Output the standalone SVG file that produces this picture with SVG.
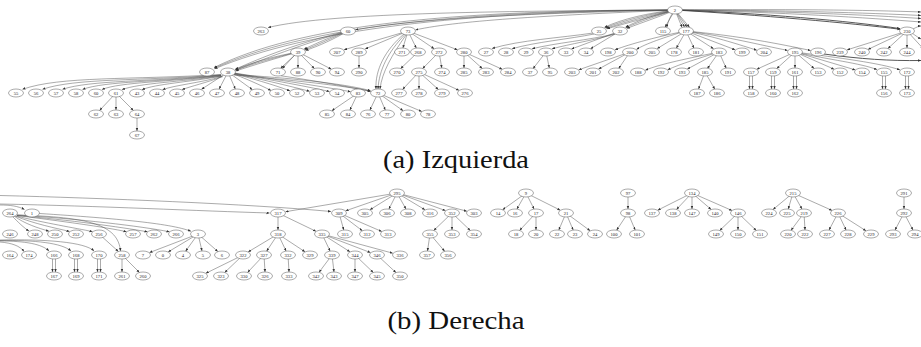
<svg xmlns="http://www.w3.org/2000/svg" width="921" height="347" viewBox="0 0 921 347">
<style>
.n ellipse{fill:#fff;stroke:#555;stroke-width:0.5}
.n text{font-family:"Liberation Serif",serif;font-size:4.6px;text-anchor:middle;fill:#222}
.e path{fill:none;stroke:#444;stroke-width:0.45;marker-end:url(#a)}
.e path.t{stroke-width:0.9}
.cap{font-family:"Liberation Serif","DejaVu Serif",serif;font-size:25px;text-anchor:middle;fill:#111}
</style>
<defs>
<marker id="a" markerWidth="4" markerHeight="4" refX="3" refY="1.25" orient="auto" markerUnits="userSpaceOnUse"><path d="M0,0 L3,1.25 L0,2.5z" fill="#333"/></marker>
</defs>
<rect width="921" height="347" fill="#fff"/>
<g class="e" id="connectors">
<path d="M675,10 C520,11 330,12 268,27.6"/>
<path d="M675,10 C540,13 420,18 355.5,29.8"/>
<path d="M675,10 C560,15 460,20 415.5,29.9"/>
<path d="M675,10 C450,10 300,25 214,67.6"/>
<path d="M675,10 C455,11 305,27 214.3,68.2"/>
<path d="M675,10 C460,12 310,29 214.6,68.8"/>
<path d="M675,10 C650,14 625,20 605,27.8"/>
<path d="M675,10 C652,15 628,21 606,28.3"/>
<path d="M675,10 C648,13 622,19 604.5,27.3"/>
<path d="M675,10 C655,16 630,22 607,28.8"/>
<path d="M675,10 C660,15 640,21 626,27.8"/>
<path d="M675,10 C662,16 643,22 627,28.4"/>
<path d="M675,10 C658,14 638,20 625.5,27.3"/>
<path d="M675,10 L665,27.2"/>
<path d="M675,10 C670,16 668,22 666.8,27.3"/>
<path d="M675,10 L682,27.3"/>
<path d="M675,10 L684.5,27.1"/>
<path d="M675,10 L687,27"/>
<path d="M675,10 L689.5,27.2"/>
<path class="t" d="M675,10 C760,13 850,21 900,28.6"/>
<path class="t" d="M675,10 C760,15 850,23 900.5,29.3"/>
<path d="M675,10 C780,9 870,10 921,12"/>
<path d="M675,10 C780,10 870,13 921,15.5"/>
<path d="M675,10 C780,11 870,15 921,18.5"/>
<path d="M675,10 C780,12 870,18 921,22"/>
<path d="M913,29 C917,27 919,26 921,26"/>
<path d="M912,33 C916,36 919,38 921,39"/>
<path d="M348,31 C330,37 315,44 304,49.2"/>
<path d="M348,31 C332,38 317,45 304.8,49.8"/>
<path d="M348,31 C334,39 319,46 305.6,50.4"/>
<path d="M348,31 C300,42 260,58 235.2,69.3"/>
<path d="M348,31 C302,44 262,60 235.5,70"/>
<path d="M298,52 C275,56 250,63 235.3,69.6"/>
<path d="M298,52 C276,57 252,64 235.5,70.3"/>
<path d="M298,52 C277,58 254,65 235.7,71"/>
<path d="M298,52 L280.6,68.3"/>
<path d="M298,52 C292,58 287,63 282.6,68.6"/>
<path d="M298,52 L298,68"/>
<path d="M298,52 L314.4,68.6"/>
<path d="M298,52 L331.4,69.2"/>
<path d="M281,75.8 C310,80 345,86 370.6,91.4"/>
<path d="M234,74.5 C290,78 340,83 370.5,90.6"/>
<path d="M234,75 C290,80 340,85 370.5,91.2"/>
<path d="M221,74.5 C130,80 60,76 22.5,89.3"/>
<path d="M221,75 C140,81 75,78 42.5,89.3"/>
<path d="M221,75 C150,82 90,80 62.5,89.3"/>
<path d="M221,75.5 C160,82 105,81 82.5,89.4"/>
<path d="M221,75.5 C170,82 120,82 102,89.5"/>
<path d="M221,76 C180,82 140,83 122,89.6"/>
<path d="M222,76 C190,82 155,84 142,89.7"/>
<path d="M222,76.5 C200,83 175,85 162.5,89.7"/>
<path d="M223,76.5 C205,83 192,86 182,89.6"/>
<path d="M228,72 L201.5,89.3"/>
<path d="M228,72 L219.1,89.1"/>
<path d="M228,72 L235.3,89.1"/>
<path d="M228,72 L252.4,89.7"/>
<path d="M228,72 C245,78 260,85 271,90.4"/>
<path d="M228,72 C250,78 275,85 290,90.9"/>
<path d="M228,72 C255,78 290,86 309.6,91.3"/>
<path d="M228,72 C260,78 305,86 329.5,91.5"/>
<path d="M228,72 C265,78 320,86 350.6,91.7"/>
<path d="M116,93 L99.6,110.4"/>
<path d="M116,93 L116,110"/>
<path d="M116,93 L133.4,110.4"/>
<path d="M137,114 L137,131"/>
<path d="M358,93 L331.8,110.8"/>
<path d="M358,93 L349.9,110.1"/>
<path d="M378,93 L369.9,110.1"/>
<path d="M378,93 L385.3,110.1"/>
<path d="M378,93 L403.2,110.8"/>
<path d="M378,93 L421.8,111.5"/>
<path d="M408,31 L344,49.8"/>
<path d="M408,31 L365.2,48.9"/>
<path d="M408,31 L402.9,48.1"/>
<path d="M408,31 L416.3,48.1"/>
<path d="M408,31 L434.2,48.8"/>
<path d="M408,31 L457.5,49.8"/>
<path d="M404,34 C385,50 375,70 376,89"/>
<path d="M405,34.5 C388,52 379,70 378,89"/>
<path d="M406,35 C392,55 382,72 380,89"/>
<path d="M359,52 L359,68"/>
<path d="M418,52 L400.6,68.6"/>
<path d="M439,52 L422.6,68.6"/>
<path d="M439,52 L441.8,68"/>
<path d="M419,72 L402.6,89.4"/>
<path d="M419,72 L419,89"/>
<path d="M419,72 L438.4,89.5"/>
<path d="M419,72 L459,90.3"/>
<path d="M464,52 L464,68"/>
<path d="M464,52 L482.3,68.5"/>
<path d="M464,52 L502.3,69.3"/>
<path d="M593,33 C560,38 520,40 492,48.5"/>
<path d="M594,34 C570,39 535,42 512,48.8"/>
<path d="M614,34 C590,40 555,43 532,48.8"/>
<path d="M615,34 C595,40 570,44 552,48.8"/>
<path d="M620,31 L571.5,49"/>
<path d="M620,31 L590.5,48.8"/>
<path d="M546,52 L533,68.7"/>
<path d="M546,52 L549.3,68"/>
<path d="M686,31 C660,36 630,44 615,49.8"/>
<path d="M686,31 C665,37 645,44 636.5,49.4"/>
<path d="M686,31 L657.2,48.6"/>
<path d="M686,31 L676.3,48.2"/>
<path d="M686,31 L694,48.2"/>
<path d="M686,31 L713.6,48.8"/>
<path d="M686,31 L735.2,49.8"/>
<path d="M686,31 C720,38 740,45 756.8,50.2"/>
<path d="M686,31 C730,37 760,45 787.6,50.4"/>
<path d="M686,31 C740,36 780,44 810.6,50.5"/>
<path d="M630,52 L578.7,69.8"/>
<path d="M630,52 L598.5,69.1"/>
<path d="M630,52 L618.6,68.6"/>
<path d="M719,52 C690,58 660,64 645.3,70.2"/>
<path d="M719,52 C700,58 680,64 667.6,69.8"/>
<path d="M719,52 L687.3,69.1"/>
<path d="M719,52 L707.3,68.6"/>
<path d="M719,52 L726.2,68.3"/>
<path d="M705,72 L698.5,89.1"/>
<path d="M705,72 L714.8,89.2"/>
<path d="M795,52 L756.7,69.3"/>
<path d="M795,52 L776.7,68.6"/>
<path d="M795,52 L795,68"/>
<path d="M795,52 L814.2,68.5"/>
<path d="M795,52 L834.1,69.2"/>
<path d="M795,52 L855.3,69.9"/>
<path d="M795,52 C830,60 860,63 877,69.6"/>
<path d="M795,52 C840,58 880,63 900,69.9"/>
<path class="t" d="M824,54 C860,59 890,61 921,60.5"/>
<path d="M749.5,76 L749.5,89"/><path d="M752.5,76 L752.5,89"/>
<path d="M771.5,76 L771.5,89"/><path d="M774.5,76 L774.5,89"/>
<path d="M793.5,76 L793.5,89"/><path d="M796.5,76 L796.5,89"/>
<path d="M882.5,76 L882.5,89"/><path d="M885.5,76 L885.5,89"/>
<path d="M905.5,76 L905.5,89"/><path d="M908.5,76 L908.5,89"/>
<path d="M907,31 L847,49.9"/>
<path d="M907,31 L868,49.4"/>
<path d="M907,31 L887.9,48.5"/>
<path d="M907,31 L907,48"/>
<path d="M907,31 L923,48.4"/>
<path d="M0,195.5 C100,198 250,204 331,211.5"/>
<path d="M0,204 C100,206 200,211 269.5,213"/>
<path d="M0,205 C10,205 18,206 24.5,209.5"/>
<path d="M32,213 C110,218 170,223 191,231.3"/>
<path d="M12,216 C18,222 24,228 29,231"/>
<path d="M14,216 C25,224 38,228 49,231.2"/>
<path d="M15,216 C35,224 55,228 69.5,231.4"/>
<path d="M16,216 C45,223 75,228 92.5,231.6"/>
<path d="M17,215.5 C60,221 105,227 126.5,231.7"/>
<path d="M17,215.5 C70,220 120,227 147.5,231.8"/>
<path d="M17,215 C80,219 140,226 169.5,231.8"/>
<path d="M17,215 C90,217 118,225 120.5,251"/>
<path d="M0,242 C12,243 20,246 24,251.5"/>
<path d="M0,241 C25,241 42,244 49,251"/>
<path d="M0,240.5 C35,240 62,243 71,251"/>
<path d="M0,240 C45,239 85,242 94,251"/>
<path d="M52.5,259 L52.5,272"/><path d="M55.5,259 L55.5,272"/>
<path d="M74.5,259 L74.5,272"/><path d="M77.5,259 L77.5,272"/>
<path d="M97.5,259 L97.5,272"/><path d="M100.5,259 L100.5,272"/>
<path d="M99,234 L118.3,251.4"/>
<path d="M122,255 L122,272"/>
<path d="M122,255 L139.4,272.4"/>
<path d="M198,234 L149.5,252.6"/>
<path d="M198,234 L168.2,251.9"/>
<path d="M198,234 L185.6,251.2"/>
<path d="M198,234 L202,251"/>
<path d="M198,234 L217.8,251.5"/>
<path d="M397,193 L285.6,211.7"/>
<path d="M397,193 L345.6,210.8"/>
<path d="M397,193 L369.9,209.8"/>
<path d="M397,193 L388.9,209.1"/>
<path d="M397,193 L406,209.1"/>
<path d="M397,193 L425,209.8"/>
<path d="M397,193 L445.5,210.6"/>
<path d="M397,193 L466.9,211.2"/>
<path d="M278,213 L278,230"/>
<path d="M278,213 L316,231.3"/>
<path d="M278,234 L248.2,251.9"/>
<path d="M278,234 L266.6,251.2"/>
<path d="M278,234 L286.1,251.1"/>
<path d="M278,234 L305,251.8"/>
<path d="M322,234 L330.1,251.1"/>
<path d="M322,234 L350,251.8"/>
<path d="M322,234 L370.5,252.6"/>
<path d="M322,234 L392.8,253.2"/>
<path d="M339,213 L343.8,230.1"/>
<path d="M339,213 L362.4,230.8"/>
<path d="M339,213 L381.8,231.5"/>
<path d="M452,213 L433.7,230.5"/>
<path d="M452,213 L452,230"/>
<path d="M452,213 L470.3,230.5"/>
<path d="M430,234 L427.5,251"/>
<path d="M430,234 L444.7,251.3"/>
<path d="M243,255 L205.8,273.3"/>
<path d="M243,255 L224.7,272.5"/>
<path d="M264,255 L247.6,272.4"/>
<path d="M264,255 L265,272"/>
<path d="M288,255 L289,272"/>
<path d="M332,255 L319,272.3"/>
<path d="M332,255 L334,272"/>
<path d="M355,255 L355,272"/>
<path d="M355,255 L373.3,272.5"/>
<path d="M377,255 L396,272.6"/>
<path d="M526,193 L502.6,209.8"/>
<path d="M526,193 L516.9,209.1"/>
<path d="M526,193 L534.1,209.1"/>
<path d="M526,193 L560.3,210.2"/>
<path d="M536,213 L519.6,230.4"/>
<path d="M536,213 L536,230"/>
<path d="M566,213 L558.8,230.1"/>
<path d="M566,213 L573.2,230.1"/>
<path d="M566,213 L590.2,230.8"/>
<path d="M628,193 L628,209"/>
<path d="M628,213 L616.6,230.2"/>
<path d="M628,213 L635.2,230.1"/>
<path d="M692,193 L657.7,210.2"/>
<path d="M692,193 L676.5,209.4"/>
<path d="M692,193 L692,209"/>
<path d="M692,193 L711.1,209.4"/>
<path d="M692,193 L732,210.5"/>
<path d="M738,213 L719.7,230.5"/>
<path d="M738,213 L738,230"/>
<path d="M738,213 L756.3,230.5"/>
<path d="M793,193 L773,209.5"/>
<path d="M793,193 L788.2,209.1"/>
<path d="M793,193 L802,209.1"/>
<path d="M793,193 L832,210.4"/>
<path d="M804,213 L791,230.3"/>
<path d="M804,213 L805,230"/>
<path d="M838,213 L829,230.1"/>
<path d="M838,213 L846.1,230.1"/>
<path d="M838,213 L866,230.8"/>
<path d="M904,193 L904,209"/>
<path d="M904,213 L895,230.1"/>
<path d="M904,213 L913,230.1"/>
</g>
<g id="n2" class="n"><ellipse cx="675" cy="10" rx="7.5" ry="4"/><text x="675" y="11.6">2</text></g>
<g id="n263" class="n"><ellipse cx="261" cy="31" rx="7.5" ry="4"/><text x="261" y="32.6">263</text></g>
<g id="n60" class="n"><ellipse cx="348" cy="31" rx="7.5" ry="4"/><text x="348" y="32.6">60</text></g>
<g id="n73" class="n"><ellipse cx="408" cy="31" rx="7.5" ry="4"/><text x="408" y="32.6">73</text></g>
<g id="n25" class="n"><ellipse cx="599" cy="31" rx="7.5" ry="4"/><text x="599" y="32.6">25</text></g>
<g id="n32" class="n"><ellipse cx="620" cy="31" rx="7.5" ry="4"/><text x="620" y="32.6">32</text></g>
<g id="n115" class="n"><ellipse cx="663" cy="31" rx="7.5" ry="4"/><text x="663" y="32.6">115</text></g>
<g id="n177" class="n"><ellipse cx="686" cy="31" rx="7.5" ry="4"/><text x="686" y="32.6">177</text></g>
<g id="n230" class="n"><ellipse cx="907" cy="31" rx="7.5" ry="4"/><text x="907" y="32.6">230</text></g>
<g id="n39" class="n"><ellipse cx="298" cy="52" rx="7.5" ry="4"/><text x="298" y="53.6">39</text></g>
<g id="n207" class="n"><ellipse cx="337" cy="52" rx="7.5" ry="4"/><text x="337" y="53.6">207</text></g>
<g id="n289" class="n"><ellipse cx="359" cy="52" rx="7.5" ry="4"/><text x="359" y="53.6">289</text></g>
<g id="n271" class="n"><ellipse cx="402" cy="52" rx="7.5" ry="4"/><text x="402" y="53.6">271</text></g>
<g id="n268" class="n"><ellipse cx="418" cy="52" rx="7.5" ry="4"/><text x="418" y="53.6">268</text></g>
<g id="n272" class="n"><ellipse cx="439" cy="52" rx="7.5" ry="4"/><text x="439" y="53.6">272</text></g>
<g id="n280" class="n"><ellipse cx="464" cy="52" rx="7.5" ry="4"/><text x="464" y="53.6">280</text></g>
<g id="n27" class="n"><ellipse cx="486" cy="52" rx="7.5" ry="4"/><text x="486" y="53.6">27</text></g>
<g id="n28" class="n"><ellipse cx="506" cy="52" rx="7.5" ry="4"/><text x="506" y="53.6">28</text></g>
<g id="n29" class="n"><ellipse cx="526" cy="52" rx="7.5" ry="4"/><text x="526" y="53.6">29</text></g>
<g id="n36" class="n"><ellipse cx="546" cy="52" rx="7.5" ry="4"/><text x="546" y="53.6">36</text></g>
<g id="n33" class="n"><ellipse cx="566" cy="52" rx="7.5" ry="4"/><text x="566" y="53.6">33</text></g>
<g id="n34" class="n"><ellipse cx="586" cy="52" rx="7.5" ry="4"/><text x="586" y="53.6">34</text></g>
<g id="n198" class="n"><ellipse cx="608" cy="52" rx="7.5" ry="4"/><text x="608" y="53.6">198</text></g>
<g id="n200" class="n"><ellipse cx="630" cy="52" rx="7.5" ry="4"/><text x="630" y="53.6">200</text></g>
<g id="n205" class="n"><ellipse cx="652" cy="52" rx="7.5" ry="4"/><text x="652" y="53.6">205</text></g>
<g id="n178" class="n"><ellipse cx="674" cy="52" rx="7.5" ry="4"/><text x="674" y="53.6">178</text></g>
<g id="n181" class="n"><ellipse cx="696" cy="52" rx="7.5" ry="4"/><text x="696" y="53.6">181</text></g>
<g id="n183" class="n"><ellipse cx="719" cy="52" rx="7.5" ry="4"/><text x="719" y="53.6">183</text></g>
<g id="n199" class="n"><ellipse cx="742" cy="52" rx="7.5" ry="4"/><text x="742" y="53.6">199</text></g>
<g id="n204" class="n"><ellipse cx="764" cy="52" rx="7.5" ry="4"/><text x="764" y="53.6">204</text></g>
<g id="n195" class="n"><ellipse cx="795" cy="52" rx="7.5" ry="4"/><text x="795" y="53.6">195</text></g>
<g id="n196" class="n"><ellipse cx="818" cy="52" rx="7.5" ry="4"/><text x="818" y="53.6">196</text></g>
<g id="n239" class="n"><ellipse cx="840" cy="52" rx="7.5" ry="4"/><text x="840" y="53.6">239</text></g>
<g id="n240" class="n"><ellipse cx="862" cy="52" rx="7.5" ry="4"/><text x="862" y="53.6">240</text></g>
<g id="n242" class="n"><ellipse cx="884" cy="52" rx="7.5" ry="4"/><text x="884" y="53.6">242</text></g>
<g id="n244" class="n"><ellipse cx="907" cy="52" rx="7.5" ry="4"/><text x="907" y="53.6">244</text></g>
<g id="nedge" class="n"><ellipse cx="929" cy="52" rx="7.5" ry="4"/></g>
<g id="n87" class="n"><ellipse cx="207" cy="72" rx="7.5" ry="4"/><text x="207" y="73.6">87</text></g>
<g id="n38" class="n"><ellipse cx="228" cy="72" rx="7.5" ry="4"/><text x="228" y="73.6">38</text></g>
<g id="n71" class="n"><ellipse cx="278" cy="72" rx="7.5" ry="4"/><text x="278" y="73.6">71</text></g>
<g id="n88" class="n"><ellipse cx="298" cy="72" rx="7.5" ry="4"/><text x="298" y="73.6">88</text></g>
<g id="n90" class="n"><ellipse cx="318" cy="72" rx="7.5" ry="4"/><text x="318" y="73.6">90</text></g>
<g id="n94" class="n"><ellipse cx="337" cy="72" rx="7.5" ry="4"/><text x="337" y="73.6">94</text></g>
<g id="n290" class="n"><ellipse cx="359" cy="72" rx="7.5" ry="4"/><text x="359" y="73.6">290</text></g>
<g id="n270" class="n"><ellipse cx="397" cy="72" rx="7.5" ry="4"/><text x="397" y="73.6">270</text></g>
<g id="n275" class="n"><ellipse cx="419" cy="72" rx="7.5" ry="4"/><text x="419" y="73.6">275</text></g>
<g id="n274" class="n"><ellipse cx="442" cy="72" rx="7.5" ry="4"/><text x="442" y="73.6">274</text></g>
<g id="n285" class="n"><ellipse cx="464" cy="72" rx="7.5" ry="4"/><text x="464" y="73.6">285</text></g>
<g id="n283" class="n"><ellipse cx="486" cy="72" rx="7.5" ry="4"/><text x="486" y="73.6">283</text></g>
<g id="n284" class="n"><ellipse cx="508" cy="72" rx="7.5" ry="4"/><text x="508" y="73.6">284</text></g>
<g id="n37" class="n"><ellipse cx="530" cy="72" rx="7.5" ry="4"/><text x="530" y="73.6">37</text></g>
<g id="n95" class="n"><ellipse cx="550" cy="72" rx="7.5" ry="4"/><text x="550" y="73.6">95</text></g>
<g id="n203" class="n"><ellipse cx="572" cy="72" rx="7.5" ry="4"/><text x="572" y="73.6">203</text></g>
<g id="n201" class="n"><ellipse cx="593" cy="72" rx="7.5" ry="4"/><text x="593" y="73.6">201</text></g>
<g id="n202" class="n"><ellipse cx="616" cy="72" rx="7.5" ry="4"/><text x="616" y="73.6">202</text></g>
<g id="n188" class="n"><ellipse cx="638" cy="72" rx="7.5" ry="4"/><text x="638" y="73.6">188</text></g>
<g id="n192" class="n"><ellipse cx="661" cy="72" rx="7.5" ry="4"/><text x="661" y="73.6">192</text></g>
<g id="n193" class="n"><ellipse cx="682" cy="72" rx="7.5" ry="4"/><text x="682" y="73.6">193</text></g>
<g id="n185" class="n"><ellipse cx="705" cy="72" rx="7.5" ry="4"/><text x="705" y="73.6">185</text></g>
<g id="n191" class="n"><ellipse cx="728" cy="72" rx="7.5" ry="4"/><text x="728" y="73.6">191</text></g>
<g id="n157" class="n"><ellipse cx="751" cy="72" rx="7.5" ry="4"/><text x="751" y="73.6">157</text></g>
<g id="n159" class="n"><ellipse cx="773" cy="72" rx="7.5" ry="4"/><text x="773" y="73.6">159</text></g>
<g id="n161" class="n"><ellipse cx="795" cy="72" rx="7.5" ry="4"/><text x="795" y="73.6">161</text></g>
<g id="n153" class="n"><ellipse cx="818" cy="72" rx="7.5" ry="4"/><text x="818" y="73.6">153</text></g>
<g id="n152" class="n"><ellipse cx="840" cy="72" rx="7.5" ry="4"/><text x="840" y="73.6">152</text></g>
<g id="n154" class="n"><ellipse cx="862" cy="72" rx="7.5" ry="4"/><text x="862" y="73.6">154</text></g>
<g id="n155" class="n"><ellipse cx="884" cy="72" rx="7.5" ry="4"/><text x="884" y="73.6">155</text></g>
<g id="n172" class="n"><ellipse cx="907" cy="72" rx="7.5" ry="4"/><text x="907" y="73.6">172</text></g>
<g id="n55" class="n"><ellipse cx="16" cy="93" rx="7.5" ry="4"/><text x="16" y="94.6">55</text></g>
<g id="n56" class="n"><ellipse cx="36" cy="93" rx="7.5" ry="4"/><text x="36" y="94.6">56</text></g>
<g id="n57" class="n"><ellipse cx="56" cy="93" rx="7.5" ry="4"/><text x="56" y="94.6">57</text></g>
<g id="n58" class="n"><ellipse cx="76" cy="93" rx="7.5" ry="4"/><text x="76" y="94.6">58</text></g>
<g id="n60b" class="n"><ellipse cx="96" cy="93" rx="7.5" ry="4"/><text x="96" y="94.6">60</text></g>
<g id="n61" class="n"><ellipse cx="116" cy="93" rx="7.5" ry="4"/><text x="116" y="94.6">61</text></g>
<g id="n43" class="n"><ellipse cx="137" cy="93" rx="7.5" ry="4"/><text x="137" y="94.6">43</text></g>
<g id="n44" class="n"><ellipse cx="157" cy="93" rx="7.5" ry="4"/><text x="157" y="94.6">44</text></g>
<g id="n45" class="n"><ellipse cx="177" cy="93" rx="7.5" ry="4"/><text x="177" y="94.6">45</text></g>
<g id="n46" class="n"><ellipse cx="197" cy="93" rx="7.5" ry="4"/><text x="197" y="94.6">46</text></g>
<g id="n47" class="n"><ellipse cx="217" cy="93" rx="7.5" ry="4"/><text x="217" y="94.6">47</text></g>
<g id="n48" class="n"><ellipse cx="237" cy="93" rx="7.5" ry="4"/><text x="237" y="94.6">48</text></g>
<g id="n49" class="n"><ellipse cx="257" cy="93" rx="7.5" ry="4"/><text x="257" y="94.6">49</text></g>
<g id="n50" class="n"><ellipse cx="277" cy="93" rx="7.5" ry="4"/><text x="277" y="94.6">50</text></g>
<g id="n52" class="n"><ellipse cx="297" cy="93" rx="7.5" ry="4"/><text x="297" y="94.6">52</text></g>
<g id="n53" class="n"><ellipse cx="317" cy="93" rx="7.5" ry="4"/><text x="317" y="94.6">53</text></g>
<g id="n54" class="n"><ellipse cx="337" cy="93" rx="7.5" ry="4"/><text x="337" y="94.6">54</text></g>
<g id="n83" class="n"><ellipse cx="358" cy="93" rx="7.5" ry="4"/><text x="358" y="94.6">83</text></g>
<g id="n72" class="n"><ellipse cx="378" cy="93" rx="7.5" ry="4"/><text x="378" y="94.6">72</text></g>
<g id="n277" class="n"><ellipse cx="399" cy="93" rx="7.5" ry="4"/><text x="399" y="94.6">277</text></g>
<g id="n278" class="n"><ellipse cx="419" cy="93" rx="7.5" ry="4"/><text x="419" y="94.6">278</text></g>
<g id="n279" class="n"><ellipse cx="442" cy="93" rx="7.5" ry="4"/><text x="442" y="94.6">279</text></g>
<g id="n276" class="n"><ellipse cx="465" cy="93" rx="7.5" ry="4"/><text x="465" y="94.6">276</text></g>
<g id="n187" class="n"><ellipse cx="697" cy="93" rx="7.5" ry="4"/><text x="697" y="94.6">187</text></g>
<g id="n186" class="n"><ellipse cx="717" cy="93" rx="7.5" ry="4"/><text x="717" y="94.6">186</text></g>
<g id="n158" class="n"><ellipse cx="751" cy="93" rx="7.5" ry="4"/><text x="751" y="94.6">158</text></g>
<g id="n160" class="n"><ellipse cx="773" cy="93" rx="7.5" ry="4"/><text x="773" y="94.6">160</text></g>
<g id="n162" class="n"><ellipse cx="795" cy="93" rx="7.5" ry="4"/><text x="795" y="94.6">162</text></g>
<g id="n156" class="n"><ellipse cx="884" cy="93" rx="7.5" ry="4"/><text x="884" y="94.6">156</text></g>
<g id="n173" class="n"><ellipse cx="907" cy="93" rx="7.5" ry="4"/><text x="907" y="94.6">173</text></g>
<g id="n62" class="n"><ellipse cx="96" cy="114" rx="7.5" ry="4"/><text x="96" y="115.6">62</text></g>
<g id="n63" class="n"><ellipse cx="116" cy="114" rx="7.5" ry="4"/><text x="116" y="115.6">63</text></g>
<g id="n64" class="n"><ellipse cx="137" cy="114" rx="7.5" ry="4"/><text x="137" y="115.6">64</text></g>
<g id="n85" class="n"><ellipse cx="327" cy="114" rx="7.5" ry="4"/><text x="327" y="115.6">85</text></g>
<g id="n84" class="n"><ellipse cx="348" cy="114" rx="7.5" ry="4"/><text x="348" y="115.6">84</text></g>
<g id="n76" class="n"><ellipse cx="368" cy="114" rx="7.5" ry="4"/><text x="368" y="115.6">76</text></g>
<g id="n77" class="n"><ellipse cx="387" cy="114" rx="7.5" ry="4"/><text x="387" y="115.6">77</text></g>
<g id="n80" class="n"><ellipse cx="408" cy="114" rx="7.5" ry="4"/><text x="408" y="115.6">80</text></g>
<g id="n78" class="n"><ellipse cx="428" cy="114" rx="7.5" ry="4"/><text x="428" y="115.6">78</text></g>
<g id="n67" class="n"><ellipse cx="137" cy="135" rx="7.5" ry="4"/><text x="137" y="136.6">67</text></g>
<text class="cap" x="456" y="168" textLength="146" lengthAdjust="spacingAndGlyphs">(a) Izquierda</text>
<g id="n295" class="n"><ellipse cx="397" cy="193" rx="7.5" ry="4"/><text x="397" y="194.6">295</text></g>
<g id="n9" class="n"><ellipse cx="526" cy="193" rx="7.5" ry="4"/><text x="526" y="194.6">9</text></g>
<g id="n97" class="n"><ellipse cx="628" cy="193" rx="7.5" ry="4"/><text x="628" y="194.6">97</text></g>
<g id="n134" class="n"><ellipse cx="692" cy="193" rx="7.5" ry="4"/><text x="692" y="194.6">134</text></g>
<g id="n215" class="n"><ellipse cx="793" cy="193" rx="7.5" ry="4"/><text x="793" y="194.6">215</text></g>
<g id="n291" class="n"><ellipse cx="904" cy="193" rx="7.5" ry="4"/><text x="904" y="194.6">291</text></g>
<g id="n264" class="n"><ellipse cx="10" cy="213" rx="7.5" ry="4"/><text x="10" y="214.6">264</text></g>
<g id="n1" class="n"><ellipse cx="32" cy="213" rx="7.5" ry="4"/><text x="32" y="214.6">1</text></g>
<g id="n317" class="n"><ellipse cx="278" cy="213" rx="7.5" ry="4"/><text x="278" y="214.6">317</text></g>
<g id="n309" class="n"><ellipse cx="339" cy="213" rx="7.5" ry="4"/><text x="339" y="214.6">309</text></g>
<g id="n305" class="n"><ellipse cx="365" cy="213" rx="7.5" ry="4"/><text x="365" y="214.6">305</text></g>
<g id="n306" class="n"><ellipse cx="387" cy="213" rx="7.5" ry="4"/><text x="387" y="214.6">306</text></g>
<g id="n308" class="n"><ellipse cx="408" cy="213" rx="7.5" ry="4"/><text x="408" y="214.6">308</text></g>
<g id="n316" class="n"><ellipse cx="430" cy="213" rx="7.5" ry="4"/><text x="430" y="214.6">316</text></g>
<g id="n352" class="n"><ellipse cx="452" cy="213" rx="7.5" ry="4"/><text x="452" y="214.6">352</text></g>
<g id="n303" class="n"><ellipse cx="474" cy="213" rx="7.5" ry="4"/><text x="474" y="214.6">303</text></g>
<g id="n14" class="n"><ellipse cx="498" cy="213" rx="7.5" ry="4"/><text x="498" y="214.6">14</text></g>
<g id="n16" class="n"><ellipse cx="515" cy="213" rx="7.5" ry="4"/><text x="515" y="214.6">16</text></g>
<g id="n17" class="n"><ellipse cx="536" cy="213" rx="7.5" ry="4"/><text x="536" y="214.6">17</text></g>
<g id="n21" class="n"><ellipse cx="566" cy="213" rx="7.5" ry="4"/><text x="566" y="214.6">21</text></g>
<g id="n98" class="n"><ellipse cx="628" cy="213" rx="7.5" ry="4"/><text x="628" y="214.6">98</text></g>
<g id="n137" class="n"><ellipse cx="652" cy="213" rx="7.5" ry="4"/><text x="652" y="214.6">137</text></g>
<g id="n138" class="n"><ellipse cx="673" cy="213" rx="7.5" ry="4"/><text x="673" y="214.6">138</text></g>
<g id="n147" class="n"><ellipse cx="692" cy="213" rx="7.5" ry="4"/><text x="692" y="214.6">147</text></g>
<g id="n140" class="n"><ellipse cx="715" cy="213" rx="7.5" ry="4"/><text x="715" y="214.6">140</text></g>
<g id="n146" class="n"><ellipse cx="738" cy="213" rx="7.5" ry="4"/><text x="738" y="214.6">146</text></g>
<g id="n224" class="n"><ellipse cx="769" cy="213" rx="7.5" ry="4"/><text x="769" y="214.6">224</text></g>
<g id="n225" class="n"><ellipse cx="787" cy="213" rx="7.5" ry="4"/><text x="787" y="214.6">225</text></g>
<g id="n219" class="n"><ellipse cx="804" cy="213" rx="7.5" ry="4"/><text x="804" y="214.6">219</text></g>
<g id="n226" class="n"><ellipse cx="838" cy="213" rx="7.5" ry="4"/><text x="838" y="214.6">226</text></g>
<g id="n292" class="n"><ellipse cx="904" cy="213" rx="7.5" ry="4"/><text x="904" y="214.6">292</text></g>
<g id="n246" class="n"><ellipse cx="10" cy="234" rx="7.5" ry="4"/><text x="10" y="235.6">246</text></g>
<g id="n248" class="n"><ellipse cx="35" cy="234" rx="7.5" ry="4"/><text x="35" y="235.6">248</text></g>
<g id="n250" class="n"><ellipse cx="55" cy="234" rx="7.5" ry="4"/><text x="55" y="235.6">250</text></g>
<g id="n252" class="n"><ellipse cx="76" cy="234" rx="7.5" ry="4"/><text x="76" y="235.6">252</text></g>
<g id="n256" class="n"><ellipse cx="99" cy="234" rx="7.5" ry="4"/><text x="99" y="235.6">256</text></g>
<g id="n257" class="n"><ellipse cx="133" cy="234" rx="7.5" ry="4"/><text x="133" y="235.6">257</text></g>
<g id="n262" class="n"><ellipse cx="154" cy="234" rx="7.5" ry="4"/><text x="154" y="235.6">262</text></g>
<g id="n266" class="n"><ellipse cx="176" cy="234" rx="7.5" ry="4"/><text x="176" y="235.6">266</text></g>
<g id="n3" class="n"><ellipse cx="198" cy="234" rx="7.5" ry="4"/><text x="198" y="235.6">3</text></g>
<g id="n318" class="n"><ellipse cx="278" cy="234" rx="7.5" ry="4"/><text x="278" y="235.6">318</text></g>
<g id="n335" class="n"><ellipse cx="322" cy="234" rx="7.5" ry="4"/><text x="322" y="235.6">335</text></g>
<g id="n315" class="n"><ellipse cx="345" cy="234" rx="7.5" ry="4"/><text x="345" y="235.6">315</text></g>
<g id="n312" class="n"><ellipse cx="367" cy="234" rx="7.5" ry="4"/><text x="367" y="235.6">312</text></g>
<g id="n313" class="n"><ellipse cx="388" cy="234" rx="7.5" ry="4"/><text x="388" y="235.6">313</text></g>
<g id="n355" class="n"><ellipse cx="430" cy="234" rx="7.5" ry="4"/><text x="430" y="235.6">355</text></g>
<g id="n353" class="n"><ellipse cx="452" cy="234" rx="7.5" ry="4"/><text x="452" y="235.6">353</text></g>
<g id="n354" class="n"><ellipse cx="474" cy="234" rx="7.5" ry="4"/><text x="474" y="235.6">354</text></g>
<g id="n18" class="n"><ellipse cx="516" cy="234" rx="7.5" ry="4"/><text x="516" y="235.6">18</text></g>
<g id="n20" class="n"><ellipse cx="536" cy="234" rx="7.5" ry="4"/><text x="536" y="235.6">20</text></g>
<g id="n22" class="n"><ellipse cx="557" cy="234" rx="7.5" ry="4"/><text x="557" y="235.6">22</text></g>
<g id="n23" class="n"><ellipse cx="575" cy="234" rx="7.5" ry="4"/><text x="575" y="235.6">23</text></g>
<g id="n24" class="n"><ellipse cx="595" cy="234" rx="7.5" ry="4"/><text x="595" y="235.6">24</text></g>
<g id="n100" class="n"><ellipse cx="614" cy="234" rx="7.5" ry="4"/><text x="614" y="235.6">100</text></g>
<g id="n101" class="n"><ellipse cx="637" cy="234" rx="7.5" ry="4"/><text x="637" y="235.6">101</text></g>
<g id="n149" class="n"><ellipse cx="716" cy="234" rx="7.5" ry="4"/><text x="716" y="235.6">149</text></g>
<g id="n150" class="n"><ellipse cx="738" cy="234" rx="7.5" ry="4"/><text x="738" y="235.6">150</text></g>
<g id="n151" class="n"><ellipse cx="760" cy="234" rx="7.5" ry="4"/><text x="760" y="235.6">151</text></g>
<g id="n220" class="n"><ellipse cx="788" cy="234" rx="7.5" ry="4"/><text x="788" y="235.6">220</text></g>
<g id="n222" class="n"><ellipse cx="805" cy="234" rx="7.5" ry="4"/><text x="805" y="235.6">222</text></g>
<g id="n227" class="n"><ellipse cx="827" cy="234" rx="7.5" ry="4"/><text x="827" y="235.6">227</text></g>
<g id="n228" class="n"><ellipse cx="848" cy="234" rx="7.5" ry="4"/><text x="848" y="235.6">228</text></g>
<g id="n229" class="n"><ellipse cx="871" cy="234" rx="7.5" ry="4"/><text x="871" y="235.6">229</text></g>
<g id="n293" class="n"><ellipse cx="893" cy="234" rx="7.5" ry="4"/><text x="893" y="235.6">293</text></g>
<g id="n294" class="n"><ellipse cx="915" cy="234" rx="7.5" ry="4"/><text x="915" y="235.6">294</text></g>
<g id="n164" class="n"><ellipse cx="10" cy="255" rx="7.5" ry="4"/><text x="10" y="256.6">164</text></g>
<g id="n174" class="n"><ellipse cx="29" cy="255" rx="7.5" ry="4"/><text x="29" y="256.6">174</text></g>
<g id="n166" class="n"><ellipse cx="54" cy="255" rx="7.5" ry="4"/><text x="54" y="256.6">166</text></g>
<g id="n168" class="n"><ellipse cx="76" cy="255" rx="7.5" ry="4"/><text x="76" y="256.6">168</text></g>
<g id="n170" class="n"><ellipse cx="99" cy="255" rx="7.5" ry="4"/><text x="99" y="256.6">170</text></g>
<g id="n258" class="n"><ellipse cx="122" cy="255" rx="7.5" ry="4"/><text x="122" y="256.6">258</text></g>
<g id="n7" class="n"><ellipse cx="143" cy="255" rx="7.5" ry="4"/><text x="143" y="256.6">7</text></g>
<g id="n0" class="n"><ellipse cx="163" cy="255" rx="7.5" ry="4"/><text x="163" y="256.6">0</text></g>
<g id="n4" class="n"><ellipse cx="183" cy="255" rx="7.5" ry="4"/><text x="183" y="256.6">4</text></g>
<g id="n5" class="n"><ellipse cx="203" cy="255" rx="7.5" ry="4"/><text x="203" y="256.6">5</text></g>
<g id="n6" class="n"><ellipse cx="222" cy="255" rx="7.5" ry="4"/><text x="222" y="256.6">6</text></g>
<g id="n322" class="n"><ellipse cx="243" cy="255" rx="7.5" ry="4"/><text x="243" y="256.6">322</text></g>
<g id="n327" class="n"><ellipse cx="264" cy="255" rx="7.5" ry="4"/><text x="264" y="256.6">327</text></g>
<g id="n332" class="n"><ellipse cx="288" cy="255" rx="7.5" ry="4"/><text x="288" y="256.6">332</text></g>
<g id="n329" class="n"><ellipse cx="310" cy="255" rx="7.5" ry="4"/><text x="310" y="256.6">329</text></g>
<g id="n339" class="n"><ellipse cx="332" cy="255" rx="7.5" ry="4"/><text x="332" y="256.6">339</text></g>
<g id="n344" class="n"><ellipse cx="355" cy="255" rx="7.5" ry="4"/><text x="355" y="256.6">344</text></g>
<g id="n346" class="n"><ellipse cx="377" cy="255" rx="7.5" ry="4"/><text x="377" y="256.6">346</text></g>
<g id="n336" class="n"><ellipse cx="400" cy="255" rx="7.5" ry="4"/><text x="400" y="256.6">336</text></g>
<g id="n357" class="n"><ellipse cx="427" cy="255" rx="7.5" ry="4"/><text x="427" y="256.6">357</text></g>
<g id="n356" class="n"><ellipse cx="448" cy="255" rx="7.5" ry="4"/><text x="448" y="256.6">356</text></g>
<g id="n167" class="n"><ellipse cx="54" cy="276" rx="7.5" ry="4"/><text x="54" y="277.6">167</text></g>
<g id="n169" class="n"><ellipse cx="76" cy="276" rx="7.5" ry="4"/><text x="76" y="277.6">169</text></g>
<g id="n171" class="n"><ellipse cx="99" cy="276" rx="7.5" ry="4"/><text x="99" y="277.6">171</text></g>
<g id="n261" class="n"><ellipse cx="122" cy="276" rx="7.5" ry="4"/><text x="122" y="277.6">261</text></g>
<g id="n260" class="n"><ellipse cx="143" cy="276" rx="7.5" ry="4"/><text x="143" y="277.6">260</text></g>
<g id="n325" class="n"><ellipse cx="200" cy="276" rx="7.5" ry="4"/><text x="200" y="277.6">325</text></g>
<g id="n323" class="n"><ellipse cx="221" cy="276" rx="7.5" ry="4"/><text x="221" y="277.6">323</text></g>
<g id="n330" class="n"><ellipse cx="244" cy="276" rx="7.5" ry="4"/><text x="244" y="277.6">330</text></g>
<g id="n326" class="n"><ellipse cx="265" cy="276" rx="7.5" ry="4"/><text x="265" y="277.6">326</text></g>
<g id="n333" class="n"><ellipse cx="289" cy="276" rx="7.5" ry="4"/><text x="289" y="277.6">333</text></g>
<g id="n342" class="n"><ellipse cx="316" cy="276" rx="7.5" ry="4"/><text x="316" y="277.6">342</text></g>
<g id="n343" class="n"><ellipse cx="334" cy="276" rx="7.5" ry="4"/><text x="334" y="277.6">343</text></g>
<g id="n347" class="n"><ellipse cx="355" cy="276" rx="7.5" ry="4"/><text x="355" y="277.6">347</text></g>
<g id="n345" class="n"><ellipse cx="377" cy="276" rx="7.5" ry="4"/><text x="377" y="277.6">345</text></g>
<g id="n350" class="n"><ellipse cx="400" cy="276" rx="7.5" ry="4"/><text x="400" y="277.6">350</text></g>
<text class="cap" x="456" y="329" textLength="137" lengthAdjust="spacingAndGlyphs">(b) Derecha</text>
</svg>
